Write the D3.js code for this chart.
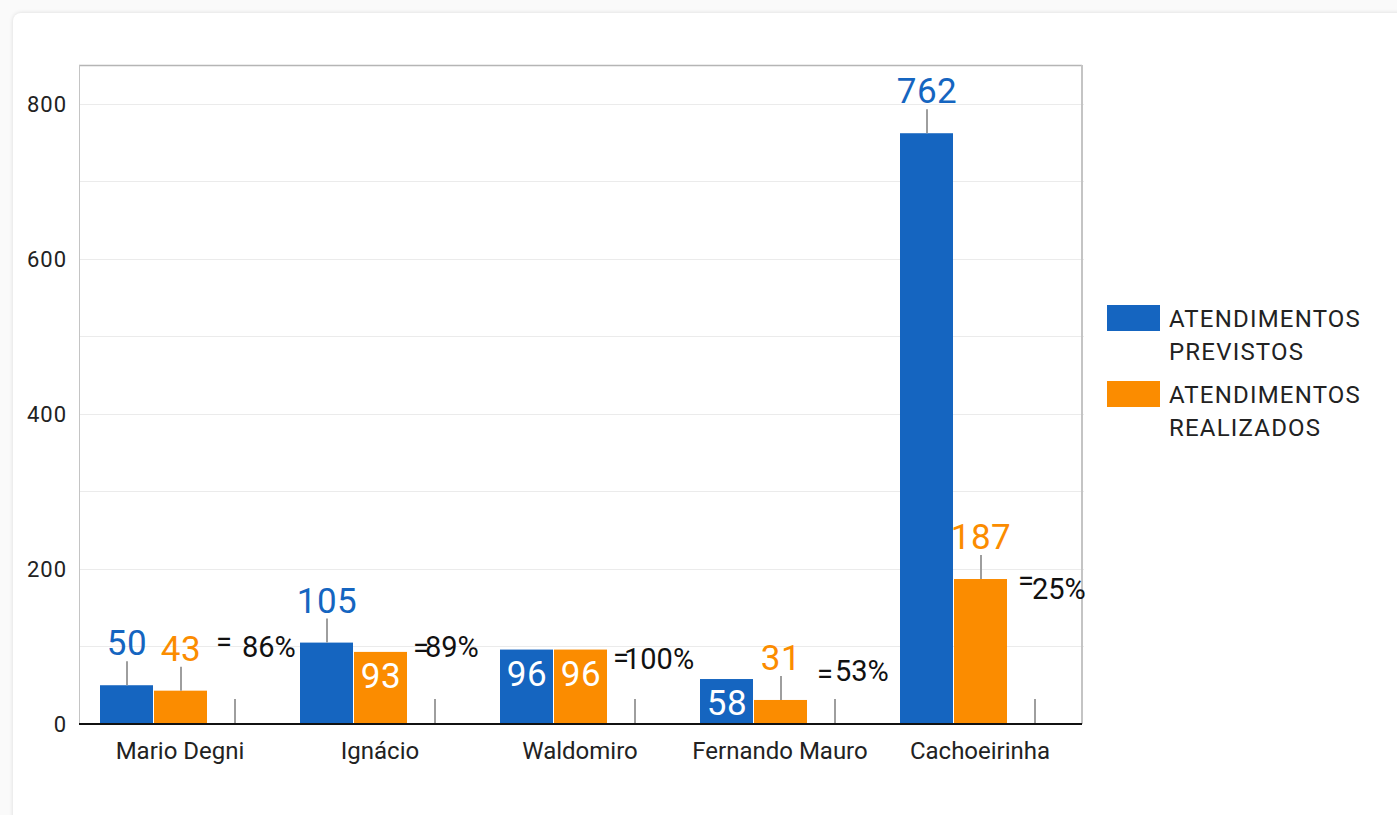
<!DOCTYPE html>
<html>
<head>
<meta charset="utf-8">
<script src="https://cdn.jsdelivr.net/npm/d3@7"></script>
<style>
  html,body{margin:0;padding:0;background:#fafafa;overflow:hidden;}
  #card{position:absolute;left:13px;top:13px;width:1500px;height:900px;background:#ffffff;
        border-radius:8px;box-shadow:0 0 4px rgba(0,0,0,0.13);}
  #chart{position:absolute;left:0;top:0;}
</style>
</head>
<body>
<div id="card"></div>
<svg id="chart" width="1397" height="815"></svg>
<script>
// ---- dados
var categorias=["Mario Degni","Ignácio","Waldomiro","Fernando Mauro","Cachoeirinha"];
var previstos=[50,105,96,58,762];
var realizados=[43,93,96,31,187];
var percentual=["86%","89%","100%","53%","25%"];
var nomesSeries=["ATENDIMENTOS PREVISTOS","ATENDIMENTOS REALIZADOS"];
var legendaLinhas=[["ATENDIMENTOS","PREVISTOS"],["ATENDIMENTOS","REALIZADOS"]];
var yTicks=[0,200,400,600,800];
var yGrid=[100,200,300,400,500,600,700,800];

// ---- ajustes de rotulos (onde o grafico original colocou cada anotacao)
var dentroPrev=[false,false,true,true,false];
var dentroReal=[false,true,true,false,false];
var igualDx=[-19,-22,-22,-18,-17];
var igualNivel=[93,84.5,71.6,52.2,171.5];
var pctDx=[7,-10,-11,0,-3];
var pctNivel=[86.4,86.4,70.9,55.5,161.2];

var azul="#1565c0", laranja="#fb8c00", cinza="#9e9e9e";
var fonte="Roboto";

var svg=d3.select("#chart");

var frameL=79, frameR=1082, frameT=65, frameB=724;

var x=d3.scaleBand().domain(categorias).range([81,1081]).paddingInner(0.19).paddingOuter(0.095);
var slot=d3.scaleBand().domain([0,1,2]).range([0,x.bandwidth()]);
var y=d3.scaleLinear().domain([0,850]).range([frameB,frameT]);

// grade
svg.selectAll(".grid").data(yGrid).enter().append("line")
    .attr("x1",frameL).attr("x2",frameR+2)
    .attr("y1",function(d){return Math.round(y(d))+0.5;})
    .attr("y2",function(d){return Math.round(y(d))+0.5;})
    .attr("stroke","#ebebeb").attr("stroke-width",1);

// moldura
svg.append("line").attr("x1",frameL).attr("x2",frameR).attr("y1",frameT+0.5).attr("y2",frameT+0.5)
    .attr("stroke","#b5b5b5").attr("stroke-width",1.5);
svg.append("line").attr("x1",frameL+0.5).attr("x2",frameL+0.5).attr("y1",frameT).attr("y2",frameB)
    .attr("stroke","#c4c4c4").attr("stroke-width",1);
svg.append("line").attr("x1",frameR).attr("x2",frameR).attr("y1",frameT).attr("y2",frameB)
    .attr("stroke","#c4c4c4").attr("stroke-width",2);

// eixo y
svg.selectAll(".ytick").data(yTicks).enter().append("text")
    .attr("x",67).attr("y",function(d){return y(d)+8;})
    .style("font-family",fonte).style("font-size","22px").style("fill","#222")
    .style("letter-spacing","1px")
    .style("text-anchor","end")
    .text(function(d){return d;});

// barras
var series=[previstos,realizados];
var cores=[azul,laranja];
var dentro=[dentroPrev,dentroReal];

for(var s=0;s<2;s++){
    svg.selectAll(".bar"+s).data(series[s]).enter().append("rect")
        .attr("x",function(d,i){return x(categorias[i])+slot(s);})
        .attr("y",function(d){return y(d);})
        .attr("width",slot.bandwidth()-1)
        .attr("height",function(d){return y(0)-y(d);})
        .attr("fill",cores[s]);
}

// hastes e rotulos de valores
for(var s=0;s<2;s++){
    series[s].forEach(function(v,i){
        var cx=x(categorias[i])+slot(s)+slot.bandwidth()/2;
        if(dentro[s][i]){
            svg.append("text")
                .attr("x",cx).attr("y",y(v)+36)
                .style("font-family",fonte).style("font-size","35px").style("fill","#ffffff")
                .style("letter-spacing","0.5px")
                .style("text-anchor","middle")
                .text(v);
        }else{
            svg.append("line")
                .attr("x1",cx).attr("x2",cx).attr("y1",y(v)).attr("y2",y(v)-24)
                .attr("stroke",cinza).attr("stroke-width",2);
            svg.append("text")
                .attr("x",cx).attr("y",y(v)-30)
                .style("font-family",fonte).style("font-size","35px").style("fill",cores[s])
                .style("letter-spacing","0.5px")
                .style("text-anchor","middle")
                .text(v);
        }
    });
}

// terceira coluna: percentual
percentual.forEach(function(p,i){
    var cx=x(categorias[i])+slot(2)+slot.bandwidth()/2;
    svg.append("line")
        .attr("x1",cx).attr("x2",cx).attr("y1",y(0)).attr("y2",y(0)-25)
        .attr("stroke",cinza).attr("stroke-width",2);
    svg.append("text")
        .attr("x",cx+igualDx[i]).attr("y",y(igualNivel[i]))
        .style("font-family",fonte).style("font-size","29px").style("fill","#111")
        .text("=");
    svg.append("text")
        .attr("x",cx+pctDx[i]).attr("y",y(pctNivel[i]))
        .style("font-family",fonte).style("font-size","29px").style("fill","#111")
        .text(p);
});

// linha de base
svg.append("line").attr("x1",frameL).attr("x2",frameR).attr("y1",frameB).attr("y2",frameB)
    .attr("stroke","#111").attr("stroke-width",2);

// categorias
svg.selectAll(".cat").data(categorias).enter().append("text")
    .attr("x",function(d){return x(d)+x.bandwidth()/2-1;})
    .attr("y",759)
    .style("font-family",fonte).style("font-size","24px").style("fill","#222")
    .style("text-anchor","middle")
    .text(function(d){return d;});

// legenda
nomesSeries.forEach(function(nome,k){
    var top=305+k*76;
    svg.append("rect").attr("x",1107).attr("y",top).attr("width",53).attr("height",26)
        .attr("fill",cores[k]);
    legendaLinhas[k].forEach(function(linha,j){
        svg.append("text")
            .attr("x",1169).attr("y",top+22+j*33)
            .style("font-family",fonte).style("font-size","24px").style("fill","#222")
            .style("letter-spacing","1.2px")
            .text(linha);
    });
});
</script>
</body>
</html>
